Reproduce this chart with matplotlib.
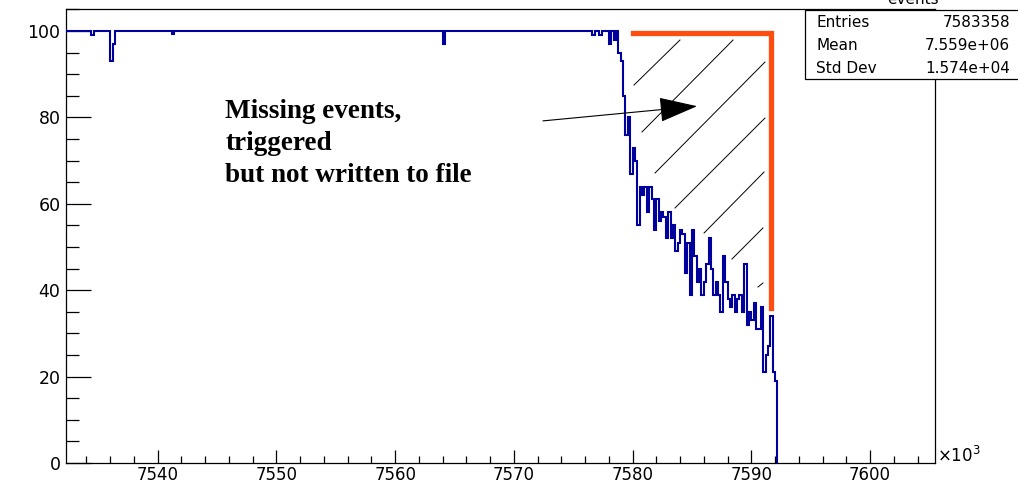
import matplotlib
matplotlib.use("Agg")
import matplotlib.pyplot as plt
from matplotlib.patches import Rectangle
from matplotlib.ticker import MultipleLocator
import numpy as np


# histogram: event number (x10^3) vs. fraction of events written (%)
bin_width = 0.2
first_edge = 7532.2
n_flat_bins = 233  # bins at ~100 before the drop (up to 7578.8)

# small dips in the flat part
dip_x = [7534.4, 7536.0, 7536.2, 7541.2, 7564.0, 7576.6, 7577.2, 7578.0, 7578.4]
dip_y = [99.0, 93.0, 97.0, 99.4, 97.0, 99.0, 99.0, 97.0, 98.0]

# falling part, 7578.8 -> 7592.2
tail_y = [95, 93, 85, 76, 80, 67, 73, 70, 55, 64,
          62, 64, 58, 64, 61, 54, 61, 56, 58, 57,
          52, 58, 52, 55, 49, 51, 54, 53, 44, 51,
          39, 54, 48, 42, 45, 39, 42, 46, 52, 45,
          39, 42, 39, 35, 48, 42, 38, 36, 39, 35,
          38, 39, 35, 46, 32, 35, 33, 37, 31, 31,
          36, 21, 25, 27, 34, 21, 19]

# orange bracket (x, y)
bracket_x = [7580.0, 7591.65, 7591.65]
bracket_y = [99.6, 99.6, 35.9]

# hatch lines marking the missing events: (x0, y0, x1, y1)
hatch_lines = [
    (7580.12, 87.50, 7583.99, 97.92),
    (7580.79, 76.62, 7588.46, 97.92),
    (7581.89, 67.13, 7591.15, 92.82),
    (7583.57, 59.03, 7591.15, 79.86),
    (7586.02, 53.24, 7591.07, 67.36),
    (7588.37, 47.22, 7590.98, 54.40),
    (7590.56, 40.74, 7590.98, 41.67),
]

arrow_start = (7572.45, 79.2)
arrow_end = (7585.43, 82.6)

note_lines = ["Missing events,", "triggered", "but not written to file"]
note_y = [79.9, 72.5, 65.0]

stat_names = ["Entries", "Mean", "Std Dev"]
stat_values = ["7583358", "7.559e+06", "1.574e+04"]


def main():
    W, H = 1018, 484
    fig = plt.figure(figsize=(W / 100, H / 100), dpi=100)
    ax = fig.add_axes([66 / W, 21 / H, 869 / W, 454 / H])

    values = np.full(n_flat_bins, 100.0)
    for x, v in zip(dip_x, dip_y):
        values[int(round((x - first_edge) / bin_width))] = v
    values = np.concatenate([values, np.array(tail_y, dtype=float)])
    edges = first_edge + bin_width * np.arange(len(values) + 1)

    ax.stairs(values, edges, baseline=0, color="#00009c", lw=1.5, zorder=3)

    for x0, y0, x1, y1 in hatch_lines:
        ax.plot([x0, x1], [y0, y1], color="black", lw=0.7, zorder=2)

    ax.plot(bracket_x, bracket_y, color="#ff4d10", lw=3.8,
            solid_joinstyle="miter", zorder=4)

    ax.annotate("", xy=arrow_end, xytext=arrow_start,
                arrowprops=dict(arrowstyle="-|>,head_length=0.4,head_width=0.13",
                                mutation_scale=61, color="black", lw=0.8,
                                shrinkA=0, shrinkB=0), zorder=5)

    for txt, y in zip(note_lines, note_y):
        ax.text(7545.7, y, txt, family="Liberation Serif", weight="bold",
                fontsize=19.5, va="baseline", ha="left", zorder=5)

    ax.set_xlim(7532.28, 7605.47)
    ax.set_ylim(0, 105.1)
    ax.xaxis.set_major_locator(MultipleLocator(10))
    ax.xaxis.set_minor_locator(MultipleLocator(2))
    ax.yaxis.set_major_locator(MultipleLocator(20))
    ax.yaxis.set_minor_locator(MultipleLocator(5))
    ax.tick_params(axis="both", which="both", direction="in",
                   width=0.9, colors="black")
    ax.tick_params(axis="y", which="major", length=18, pad=4, labelsize=12.5)
    ax.tick_params(axis="y", which="minor", length=9.4)
    ax.tick_params(axis="x", which="major", length=9.4, pad=2, labelsize=12)
    ax.tick_params(axis="x", which="minor", length=4.7)
    for s in ax.spines.values():
        s.set_linewidth(0.9)

    fig.text(937 / W, 1 - 462 / H, r"$\times10^{3}$", fontsize=12,
             ha="left", va="baseline")

    # stats box (its title is cut by the top edge)
    fig.patches.append(Rectangle((805 / W, 1 - 79 / H), 230 / W, 69 / H,
                                 transform=fig.transFigure, facecolor="white",
                                 edgecolor="black", lw=0.9, zorder=10))
    fig.text(913 / W, 1 - 3.5 / H, "events", fontsize=11, ha="center",
             va="baseline", zorder=11)
    for i, (name, val) in enumerate(zip(stat_names, stat_values)):
        yc = 1 - (22.5 + 23 * i) / H
        fig.text(816 / W, yc, name, fontsize=11, ha="left", va="center", zorder=11)
        fig.text(1010 / W, yc, val, fontsize=11, ha="right", va="center", zorder=11)

    fig.savefig("out.png", dpi=100)


if __name__ == "__main__":
    main()
